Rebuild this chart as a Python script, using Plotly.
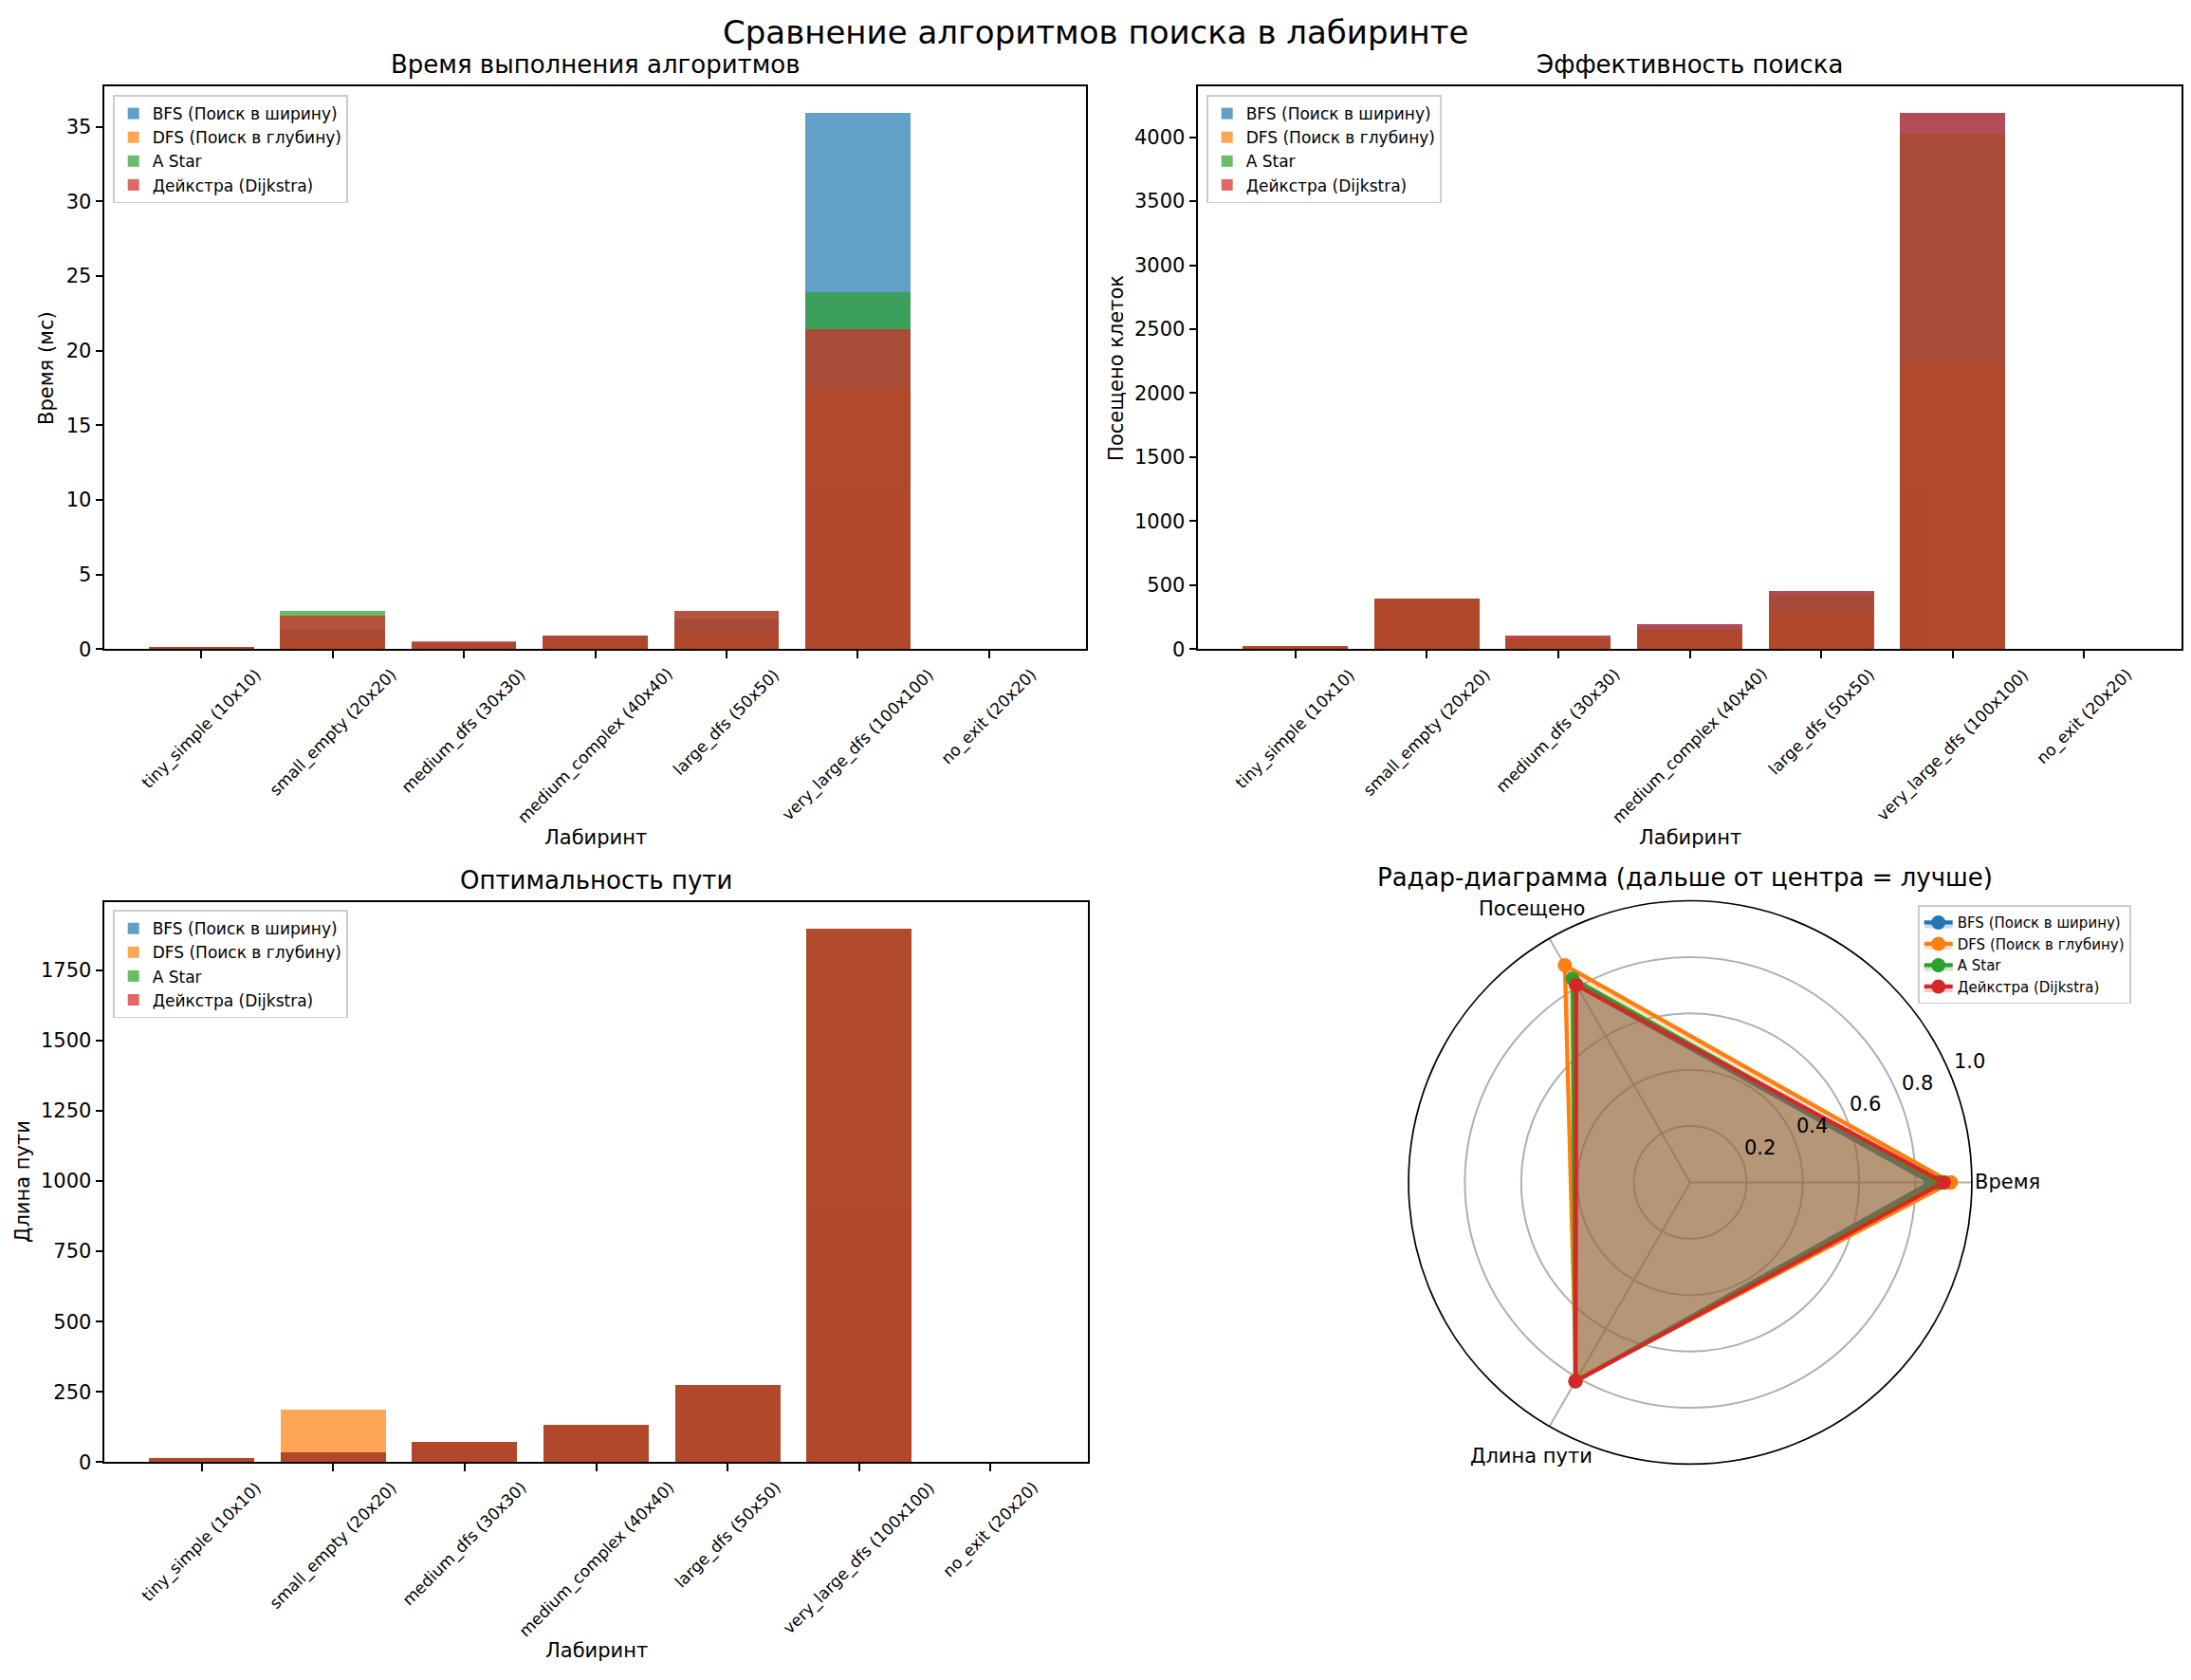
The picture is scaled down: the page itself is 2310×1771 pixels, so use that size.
import math
import plotly.graph_objects as go

# Данные
mazes = ['tiny_simple (10x10)', 'small_empty (20x20)', 'medium_dfs (30x30)',
         'medium_complex (40x40)', 'large_dfs (50x50)', 'very_large_dfs (100x100)',
         'no_exit (20x20)']
algos = ['BFS (Поиск в ширину)', 'DFS (Поиск в глубину)', 'A Star', 'Дейкстра (Dijkstra)']

time_bfs = [0.14, 1.28, 0.42, 0.90, 1.97, 35.9, 0]
time_dfs = [0.12, 0.96, 0.34, 0.72, 1.05, 17.5, 0]
time_astar = [0.15, 2.54, 0.45, 0.88, 2.53, 23.9, 0]
time_dijkstra = [0.15, 2.22, 0.52, 0.89, 2.55, 21.4, 0]

visited_bfs = [25, 393, 106, 194, 452, 4185, 0]
visited_dfs = [25, 393, 85, 133, 280, 2220, 0]
visited_astar = [25, 393, 80, 157, 423, 4023, 0]
visited_dijkstra = [25, 393, 106, 194, 452, 4185, 0]

path_bfs = [18, 38, 75, 136, 277, 1898, 0]
path_dfs = [18, 190, 75, 136, 277, 1898, 0]
path_astar = [18, 38, 75, 136, 277, 1898, 0]
path_dijkstra = [18, 38, 75, 136, 277, 1898, 0]

radar_axes = ['Время', 'Посещено', 'Длина пути']
radar_angles = [0, 120, 240]
radar_ticks = [0.2, 0.4, 0.6, 0.8, 1.0]
radar_time = [0.855, 0.925, 0.88, 0.90]
radar_visited = [0.81, 0.89, 0.835, 0.81]
radar_path = [0.815, 0.81, 0.815, 0.815]

COLORS = ['#1f77b4', '#ff7f0e', '#2ca02c', '#d62728']
FONT = 'DejaVu Sans'
W, H = 2310, 1771
OFFX, OFFY = 8, 4
FW, FH = W - 16, H - 16


def px(x):
    return (x - OFFX) / FW


def py(y):
    return 1 - (y - OFFY) / FH


def rgba(hex_color, a):
    h = hex_color.lstrip('#')
    return 'rgba(%d,%d,%d,%s)' % (int(h[0:2], 16), int(h[2:4], 16), int(h[4:6], 16), a)


def txt(size):
    return dict(family=FONT, size=size, color='black')


fig = go.Figure()
annotations = []

# (ось, легенда, данные, заголовок, подпись Y, рамка осей: лево, право, верх, низ, x подписи Y, dtick)
panels = [
    ('', 'legend', [time_bfs, time_dfs, time_astar, time_dijkstra],
     'Время выполнения алгоритмов', 'Время (мс)', (110, 1145, 88, 685), 49, 5),
    ('2', 'legend2', [visited_bfs, visited_dfs, visited_astar, visited_dijkstra],
     'Эффективность поиска', 'Посещено клеток', (1263, 2300, 88, 685), 1177, 500),
    ('3', 'legend3', [path_bfs, path_dfs, path_astar, path_dijkstra],
     'Оптимальность пути', 'Длина пути', (110, 1147, 953, 1548), 24, 250),
]

axis_common = dict(showline=True, linecolor='black', linewidth=1.7, mirror=True,
                   ticks='outside', ticklen=7.5, tickwidth=1.7, tickcolor='black',
                   showgrid=False, zeroline=False, tickfont=txt(21))

for suffix, leg, series, title, ylabel, (l, r, t, b), ylab_x, dtick in panels:
    xa = 'x' + suffix
    ya = 'y' + suffix
    for i, vals in enumerate(series):
        fig.add_trace(go.Bar(x=list(range(len(mazes))), y=vals, name=algos[i],
                             marker=dict(color=COLORS[i], line=dict(width=0)),
                             opacity=0.7, width=0.8, xaxis=xa, yaxis=ya, legend=leg))
    ymax = max(max(v) for v in series) * 1.05
    fig.layout['xaxis' + suffix] = dict(domain=[px(l), px(r)], anchor=ya, range=[-0.74, 6.74],
                                        tickmode='array', tickvals=list(range(len(mazes))),
                                        showticklabels=False, **axis_common)
    fig.layout['yaxis' + suffix] = dict(domain=[py(b), py(t)], anchor=xa, range=[0, ymax],
                                        dtick=dtick, **axis_common)
    fig.layout[leg] = dict(x=px(l + 9), y=py(t + 9), xanchor='left', yanchor='top',
                           bgcolor='rgba(255,255,255,0.8)', bordercolor='#cccccc', borderwidth=1.7,
                           font=txt(17), tracegroupgap=0)
    # подписи категорий под углом 45°
    for i, m in enumerate(mazes):
        annotations.append(dict(x=i, y=py(b + 14), xref=xa, yref='paper', text=m, showarrow=False,
                                textangle=-45, xanchor='center', yanchor='top', font=txt(17)))
    annotations.append(dict(x=px((l + r) / 2), y=py(t - 6), xref='paper', yref='paper', text=title,
                            showarrow=False, xanchor='center', yanchor='bottom', font=txt(26)))
    annotations.append(dict(x=px((l + r) / 2), y=py(b + 200), xref='paper', yref='paper',
                            text='Лабиринт', showarrow=False, xanchor='center', yanchor='middle',
                            font=txt(21)))
    annotations.append(dict(x=px(ylab_x), y=py((t + b) / 2), xref='paper', yref='paper',
                            text=ylabel, showarrow=False, textangle=-90, xanchor='center',
                            yanchor='middle', font=txt(21)))

# Радар-диаграмма
CX, CY, R = 1782, 1251, 299
for i in range(len(algos)):
    r = [radar_time[i], radar_visited[i], radar_path[i], radar_time[i]]
    theta = radar_angles + [radar_angles[0]]
    fig.add_trace(go.Scatterpolar(r=r, theta=theta, name=algos[i], mode='lines+markers',
                                  line=dict(color=COLORS[i], width=4.3),
                                  marker=dict(color=COLORS[i], size=15),
                                  fill='toself', fillcolor=rgba(COLORS[i], 0.25),
                                  legend='legend4'))

fig.update_layout(
    polar=dict(
        domain=dict(x=[px(CX - R), px(CX + R)], y=[py(CY + R), py(CY - R)]),
        bgcolor='white',
        radialaxis=dict(range=[0, 1], tickmode='array', tickvals=radar_ticks,
                        showticklabels=False, showline=False, ticks='',
                        gridcolor='#b0b0b0', gridwidth=1.7),
        angularaxis=dict(tickmode='array', tickvals=radar_angles, showticklabels=False,
                         direction='counterclockwise', rotation=0, thetaunit='degrees',
                         gridcolor='#b0b0b0', gridwidth=1.7, showline=True, linecolor='black',
                         linewidth=1.7, ticks=''),
    ),
    legend4=dict(x=px(2022), y=py(957), xanchor='left', yanchor='top',
                 bgcolor='rgba(255,255,255,0.8)', bordercolor='#cccccc', borderwidth=1.7,
                 font=txt(15), tracegroupgap=0),
)

# подписи радиальной оси (под углом 22.5°) и осей радара
a = math.radians(22.5)
for v in radar_ticks:
    annotations.append(dict(x=px(CX + v * R * math.cos(a)), y=py(CY - v * R * math.sin(a)),
                            xref='paper', yref='paper', text='%.1f' % v, showarrow=False,
                            xanchor='left', yanchor='bottom', font=txt(21)))
for ang, name in zip(radar_angles, radar_axes):
    t = math.radians(ang)
    annotations.append(dict(x=px(CX + 1.12 * R * math.cos(t)), y=py(CY - 1.12 * R * math.sin(t)),
                            xref='paper', yref='paper', text=name, showarrow=False,
                            xanchor='center', yanchor='middle', font=txt(21)))

annotations.append(dict(x=px(1777), y=py(944), xref='paper', yref='paper',
                        text='Радар-диаграмма (дальше от центра = лучше)', showarrow=False,
                        xanchor='center', yanchor='bottom', font=txt(26)))
annotations.append(dict(x=px(W / 2), y=py(30), xref='paper', yref='paper',
                        text='Сравнение алгоритмов поиска в лабиринте', showarrow=False,
                        xanchor='center', yanchor='middle', font=txt(34)))

fig.update_layout(width=FW, height=FH, margin=dict(l=0, r=0, t=0, b=0),
                  paper_bgcolor='white', plot_bgcolor='white', barmode='overlay',
                  bargap=0, annotations=annotations, font=dict(family=FONT, color='black'))

fig.write_html("out.html")
